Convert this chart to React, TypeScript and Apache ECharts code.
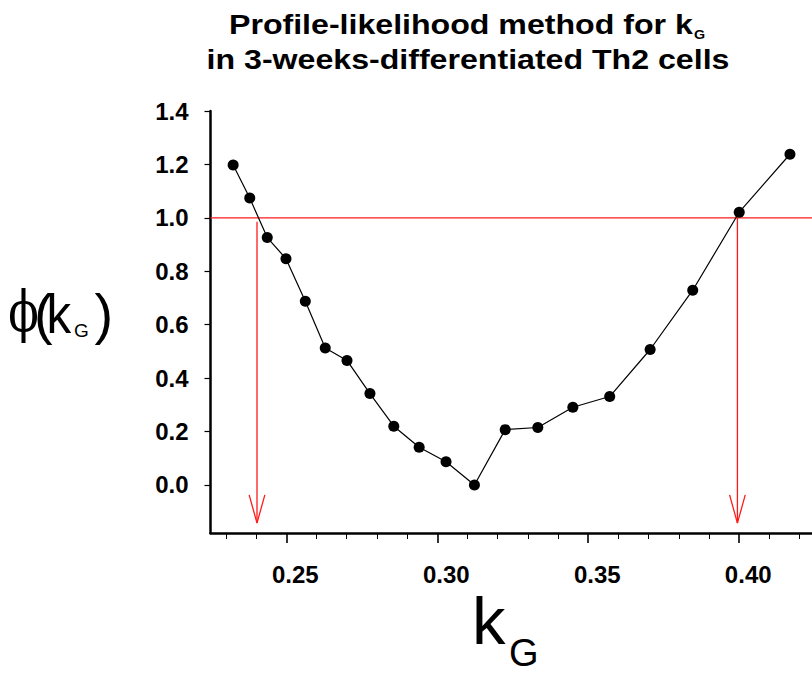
import React, { useEffect, useRef } from 'react';
import * as echarts from 'echarts';

// k_G values (x) and objective phi(k_G) (y)
const kG = [0.2324, 0.2379, 0.2437, 0.2499, 0.2563, 0.2629, 0.2701, 0.2777, 0.2856, 0.294, 0.3029, 0.3123, 0.3225, 0.3333, 0.3449, 0.3571, 0.3705, 0.3846, 0.4, 0.4168];
const phiValues = [1.198, 1.074, 0.926, 0.847, 0.688, 0.513, 0.466, 0.342, 0.22, 0.141, 0.087, 0.0, 0.207, 0.215, 0.291, 0.331, 0.507, 0.729, 1.021, 1.238];

const threshold = 1.0;
const ciBounds = [0.2403, 0.3994];
const arrowStart = [0.985, 1.0];
const arrowTip = -0.143;
const arrowHeadTop = -0.037;
const arrowHalfWidth = 0.0026;

const xRange = [0.2249, 0.4241];
const yRange = [-0.18, 1.4];
const xMajorTicks = [0.25, 0.3, 0.35, 0.4];
const xMinorTicks = [0.23, 0.24, 0.26, 0.27, 0.28, 0.29, 0.31, 0.32, 0.33, 0.34, 0.36, 0.37, 0.38, 0.39, 0.41, 0.42];
const yTicks = [0, 0.2, 0.4, 0.6, 0.8, 1.0, 1.2, 1.4];

const SANS = '"Liberation Sans", Arial, Helvetica, sans-serif';
const SERIF = '"DejaVu Serif", "Liberation Serif", "Times New Roman", serif';
const RED = '#ff1a1a';

export default function App() {
  const ref = useRef<HTMLDivElement>(null);
  useEffect(() => {
    if (!ref.current) return;
    const chart = echarts.init(ref.current, null, { renderer: 'svg' });

    const arrowSeries: any[] = [];
    ciBounds.forEach((b, i) => {
      arrowSeries.push({
        type: 'line',
        data: [[b, arrowStart[i]], [b, arrowTip]],
        symbol: 'none',
        lineStyle: { color: RED, width: 1.3 },
        silent: true,
      });
      arrowSeries.push({
        type: 'line',
        data: [[b - arrowHalfWidth, arrowHeadTop], [b, arrowTip], [b + arrowHalfWidth, arrowHeadTop]],
        symbol: 'none',
        lineStyle: { color: RED, width: 1.3 },
        silent: true,
      });
    });

    const option: any = {
      animation: false,
      grid: { left: 210.5, right: 0, top: 111, bottom: 142, containLabel: false, outerBoundsMode: 'none' },
      xAxis: [
        {
          type: 'value',
          position: 'bottom',
          min: xRange[0],
          max: xRange[1],
          splitLine: { show: false },
          axisLine: { show: true, onZero: false, lineStyle: { color: '#000', width: 2.5 } },
          axisTick: { show: true, customValues: xMajorTicks, length: 10, lineStyle: { color: '#000', width: 1.6 } },
          axisLabel: {
            show: true,
            customValues: xMajorTicks,
            formatter: (v: number) => v.toFixed(2),
            color: '#000',
            fontSize: 24,
            fontWeight: 'bold',
            fontFamily: SANS,
            margin: 29,
            padding: [0, 0, 0, 18],
          },
        },
        {
          type: 'value',
          position: 'bottom',
          min: xRange[0],
          max: xRange[1],
          splitLine: { show: false },
          axisLine: { show: false, onZero: false },
          axisTick: { show: true, customValues: xMinorTicks, length: 6, lineStyle: { color: '#000', width: 1 } },
          axisLabel: { show: false },
        },
      ],
      yAxis: {
        type: 'value',
        min: yRange[0],
        max: yRange[1],
        splitLine: { show: false },
        axisLine: { show: true, onZero: false, lineStyle: { color: '#000', width: 2.5 } },
        axisTick: { show: true, customValues: yTicks, length: 6, lineStyle: { color: '#000', width: 1.2 } },
        axisLabel: {
          show: true,
          customValues: yTicks,
          formatter: (v: number) => v.toFixed(1),
          color: '#000',
          fontSize: 24,
          fontWeight: 'bold',
          fontFamily: SANS,
          margin: 22,
        },
      },
      series: [
        {
          type: 'line',
          data: [[xRange[0], threshold], [xRange[1], threshold]],
          symbol: 'none',
          lineStyle: { color: RED, width: 1.3 },
          silent: true,
        },
        ...arrowSeries,
        {
          type: 'line',
          data: kG.map((x, i) => [x, phiValues[i]]),
          symbol: 'circle',
          symbolSize: 11,
          itemStyle: { color: '#000' },
          lineStyle: { color: '#000', width: 1.2 },
        },
      ],
      graphic: [
        {
          type: 'text', x: 692.8, y: 24, scaleX: 1.19,
          style: { text: 'Profile-likelihood method for k', fontSize: 27, fontWeight: 'bold', fontFamily: SANS, fill: '#000', textAlign: 'right', textVerticalAlign: 'middle' },
        },
        {
          type: 'text', x: 694, y: 35, scaleX: 1.19,
          style: { text: 'G', fontSize: 12, fontWeight: 'bold', fontFamily: SANS, fill: '#000', textAlign: 'left', textVerticalAlign: 'middle' },
        },
        {
          type: 'text', x: 468, y: 59, scaleX: 1.19,
          style: { text: 'in 3-weeks-differentiated Th2 cells', fontSize: 27, fontWeight: 'bold', fontFamily: SANS, fill: '#000', textAlign: 'center', textVerticalAlign: 'middle' },
        },
        // x axis name
        {
          type: 'text', x: 472, y: 620,
          style: { text: 'k', fontSize: 67, fontFamily: SANS, fill: '#000', textAlign: 'left', textVerticalAlign: 'middle' },
        },
        {
          type: 'text', x: 509, y: 653,
          style: { text: 'G', fontSize: 38, fontFamily: SANS, fill: '#000', textAlign: 'left', textVerticalAlign: 'middle' },
        },
        // y axis name
        {
          type: 'text', x: 23.5, y: 312, scaleX: 0.8,
          style: { text: '\u03D5', fontSize: 56, fontFamily: SERIF, fill: '#000', textAlign: 'center', textVerticalAlign: 'middle' },
        },
        {
          type: 'text', x: 34, y: 313,
          style: { text: '(', fontSize: 56, fontFamily: SANS, fill: '#000', textAlign: 'left', textVerticalAlign: 'middle' },
        },
        {
          type: 'text', x: 46.5, y: 313.5, scaleX: 0.88,
          style: { text: 'k', fontSize: 56, fontFamily: SANS, fill: '#000', textAlign: 'left', textVerticalAlign: 'middle' },
        },
        {
          type: 'text', x: 74, y: 330,
          style: { text: 'G', fontSize: 19, fontFamily: SANS, fill: '#000', textAlign: 'left', textVerticalAlign: 'middle' },
        },
        {
          type: 'text', x: 94.6, y: 313,
          style: { text: ')', fontSize: 56, fontFamily: SANS, fill: '#000', textAlign: 'left', textVerticalAlign: 'middle' },
        },
      ],
    };
    chart.setOption(option);
    return () => chart.dispose();
  }, []);

  return (
    <div
      ref={ref}
      style={{ position: 'absolute', left: 0, top: 0, width: 812, height: 675, background: '#fff' }}
    />
  );
}
